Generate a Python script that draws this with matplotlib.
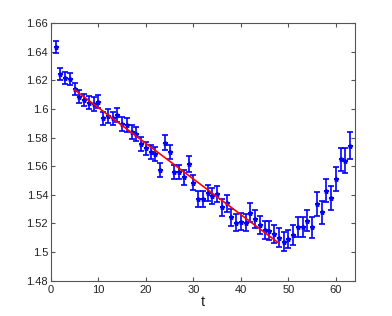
import numpy as np
from matplotlib import pyplot as plt

plt.rcParams['font.family'] = ['Liberation Sans', 'DejaVu Sans']

t = list(range(1, 64))
values = [1.6432, 1.6243, 1.6215, 1.6208, 1.6141, 1.6087, 1.6064, 1.6045, 1.6036, 1.6052,
          1.5936, 1.5952, 1.5936, 1.5959, 1.5896, 1.5889, 1.5840, 1.5824, 1.5754, 1.5726,
          1.5700, 1.5684, 1.5574, 1.5765, 1.5702, 1.5560, 1.5560, 1.5522, 1.5616, 1.5485,
          1.5369, 1.5369, 1.5415, 1.5392, 1.5404, 1.5313, 1.5341, 1.5243, 1.5206, 1.5213,
          1.5206, 1.5276, 1.5229, 1.5190, 1.5155, 1.5150, 1.5127, 1.5101, 1.5073, 1.5092,
          1.5120, 1.5173, 1.5173, 1.5220, 1.5173, 1.5336, 1.5278, 1.5429, 1.5378, 1.5511,
          1.5649, 1.5639, 1.5744]
errors = [0.0043, 0.0042, 0.0043, 0.0043, 0.0044, 0.0044, 0.0045, 0.0045, 0.0046, 0.0047,
          0.0047, 0.0047, 0.0047, 0.0048, 0.0048, 0.0048, 0.0048, 0.0049, 0.0049, 0.0047,
          0.0049, 0.0050, 0.0049, 0.0052, 0.0050, 0.0052, 0.0052, 0.0053, 0.0053, 0.0052,
          0.0055, 0.0055, 0.0056, 0.0056, 0.0057, 0.0058, 0.0058, 0.0059, 0.0060, 0.0060,
          0.0061, 0.0064, 0.0062, 0.0063, 0.0063, 0.0064, 0.0064, 0.0065, 0.0065, 0.0066,
          0.0068, 0.0069, 0.0070, 0.0071, 0.0072, 0.0082, 0.0080, 0.0082, 0.0083, 0.0087,
          0.0079, 0.0088, 0.0093]

# linear fit shown in red
fit_t = [5, 48]
fit_v = [1.6134, 1.5062]

xticks = [0, 10, 20, 30, 40, 50, 60]
yticks = [1.48, 1.5, 1.52, 1.54, 1.56, 1.58, 1.6, 1.62, 1.64, 1.66]
ytick_labels = ['1.48', '1.5', '1.52', '1.54', '1.56', '1.58', '1.6', '1.62', '1.64', '1.66']

fig = plt.figure(figsize=(3.92, 3.16), dpi=100)
ax = fig.add_axes([0.13, 0.1117, 0.7755, 0.8146])

ax.errorbar(t, values, yerr=errors, fmt='*', color='#0000ff', ecolor='#0000ff',
            markersize=3.5, elinewidth=1.2, capsize=2, capthick=1.2, zorder=2)
ax.plot(fit_t, fit_v, color='#ff0000', linewidth=1.2, zorder=3)

ax.set_xlim(0, 64)
ax.set_ylim(1.48, 1.66)
ax.set_xticks(xticks)
ax.set_yticks(yticks)
ax.set_yticklabels(ytick_labels)
ax.tick_params(direction='in', top=True, right=True, labelsize=8, length=3,
               color='#555555', labelcolor='#222222')
ax.tick_params(axis='x', pad=3)
ax.tick_params(axis='y', pad=2)
for s in ax.spines.values():
    s.set_color('#555555')
    s.set_linewidth(0.8)
ax.set_xlabel('t', fontsize=10.5, color='#222222', labelpad=0)

plt.savefig('out.png', dpi=100)
